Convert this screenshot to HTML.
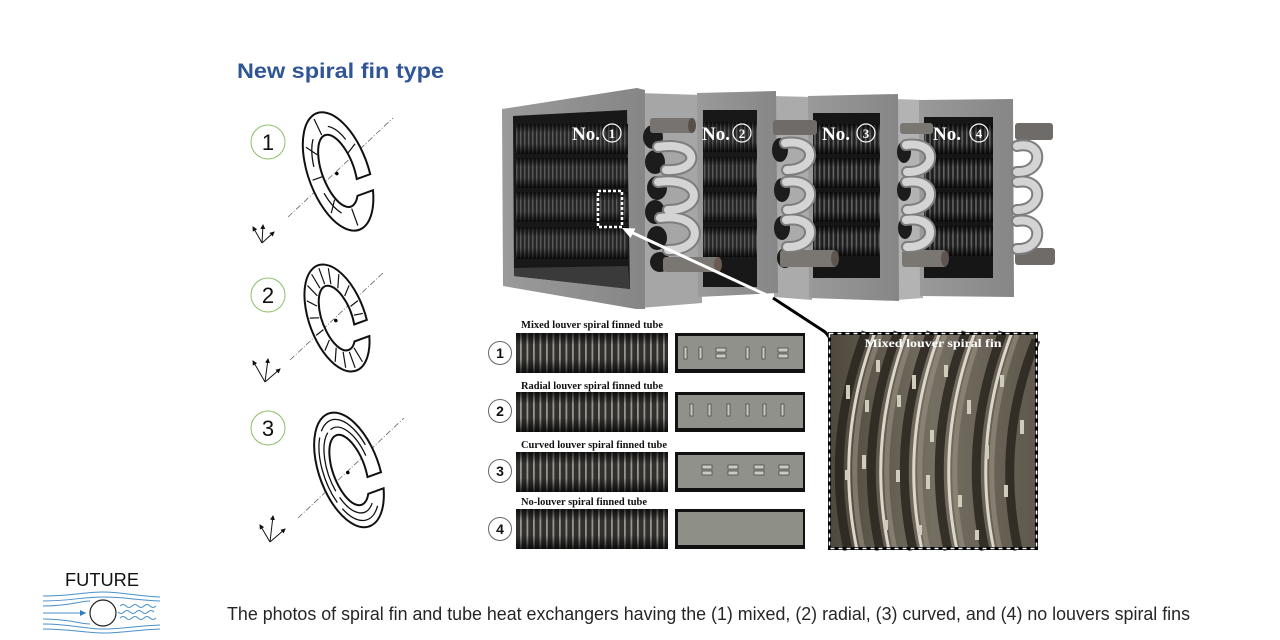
<!DOCTYPE html>
<html><head><meta charset="utf-8">
<style>html,body{margin:0;padding:0;background:#fff;}svg{display:block}</style></head>
<body>
<svg width="1280" height="640" viewBox="0 0 1280 640" xmlns="http://www.w3.org/2000/svg">
<defs>
  <pattern id="hx" width="4" height="7" patternUnits="userSpaceOnUse">
    <rect width="4" height="7" fill="#2c2c2c"/>
    <rect width="1.4" height="7" fill="#626262"/>
  </pattern>
  <pattern id="hx2" width="4.6" height="7" patternUnits="userSpaceOnUse">
    <rect width="4.6" height="7" fill="#232323"/>
    <rect width="1.6" height="7" fill="#6c6c6c"/>
  </pattern>
  <pattern id="fins" width="6.5" height="10" patternUnits="userSpaceOnUse">
    <rect width="6.5" height="10" fill="#363532"/>
    <rect width="1.8" height="10" fill="#a5a39c"/>
  </pattern>
  <linearGradient id="shade" x1="0" y1="0" x2="0" y2="1">
    <stop offset="0" stop-color="#000" stop-opacity="0.75"/>
    <stop offset="0.3" stop-color="#000" stop-opacity="0.08"/>
    <stop offset="0.65" stop-color="#000" stop-opacity="0.1"/>
    <stop offset="1" stop-color="#000" stop-opacity="0.8"/>
  </linearGradient>
  <linearGradient id="frameG" x1="0" y1="0" x2="1" y2="0">
    <stop offset="0" stop-color="#9a9a9a"/>
    <stop offset="1" stop-color="#868686"/>
  </linearGradient>
  <linearGradient id="insetG" x1="0" y1="0" x2="1" y2="0">
    <stop offset="0" stop-color="#4d473c"/>
    <stop offset="0.5" stop-color="#756e62"/>
    <stop offset="1" stop-color="#5f584c"/>
  </linearGradient>
  <marker id="ah" markerWidth="5" markerHeight="5" refX="4" refY="2.5" orient="auto" markerUnits="userSpaceOnUse">
    <path d="M0,0 L5,2.5 L0,5 Z" fill="#111"/>
  </marker>
</defs>

<!-- Title -->
<text x="237" y="78" font-family="Liberation Sans, sans-serif" font-weight="bold" font-size="21" fill="#2F5597" textLength="207" lengthAdjust="spacingAndGlyphs">New spiral fin type</text>

<!-- Number circles -->
<g font-family="Liberation Sans, sans-serif" font-size="22" fill="#111" text-anchor="middle">
  <circle cx="268" cy="142" r="17" fill="none" stroke="#8cbf6a" stroke-width="1"/>
  <text x="268" y="150">1</text>
  <circle cx="268" cy="295" r="17" fill="none" stroke="#8cbf6a" stroke-width="1"/>
  <text x="268" y="303">2</text>
  <circle cx="268" cy="428" r="17" fill="none" stroke="#8cbf6a" stroke-width="1"/>
  <text x="268" y="436">3</text>
</g>

<!-- axis dashed lines -->
<g stroke="#666" stroke-width="0.8" stroke-dasharray="6,2,1,2" fill="none">
  <line x1="288" y1="217" x2="393" y2="118"/>
  <line x1="290" y1="360" x2="384" y2="272"/>
  <line x1="298" y1="518" x2="404" y2="418"/>
</g>

<!-- Fin 1 mixed -->
<g transform="translate(338,171) rotate(-20)" stroke="#111" fill="none">
  <path d="M29.2,14 A30,62 0 1 0 26.3,30 L9.8,30 A16,38 0 1 1 14.9,14 Z" fill="#fff" stroke-width="2"/>
  <path d="M-21.25,-12.2 A22,47 0 0 1 -12.6,-38.5 M5.7,-45.4 A22,47 0 0 1 18,-27 M-11,40.7 A22,47 0 0 1 -20.7,16.1" stroke-width="1.3"/>
  <path d="M-17,0 L-27,0 M-3,-39.4 L-4.7,-57.1 M15.5,-13.5 L25.4,-19.8 M0,40 L0,58 M-14,-22.4 L-22,-33.3 M-13,25.7 L-20.7,37.3" stroke-width="1.2"/>
  <circle cx="-2" cy="2" r="1.8" fill="#000" stroke="none"/>
</g>

<!-- Fin 2 radial -->
<g transform="translate(337,318) rotate(-20)" stroke="#111" fill="none">
  <path d="M27.35,12 A28,56 0 1 0 24.25,28 L8.5,28 A15,34 0 1 1 14,12 Z" fill="#fff" stroke-width="2"/>
  <path d="M5.8,33.8 L8.9,49.8 M0,36 L0,53 M-5.8,33.8 L-8.9,49.8 M-10.9,27.6 L-16.7,40.6 M-14.7,18 L-22.5,26.5 M-16.7,6.3 L-25.6,9.2 M-16.7,-6.3 L-25.6,-9.2 M-14.7,-18 L-22.5,-26.5 M-10.9,-27.6 L-16.7,-40.6 M-5.8,-33.8 L-8.9,-49.8 M0,-36 L0,-53 M5.8,-33.8 L8.9,-49.8 M10.9,-27.6 L16.7,-40.6 M14.7,-18 L22.5,-26.5 M16.7,-6.3 L25.6,-9.2 M16.9,3.1 L25.9,4.6" stroke-width="1.2"/>
  <circle cx="-2" cy="2" r="1.8" fill="#000" stroke="none"/>
</g>

<!-- Fin 3 curved -->
<g transform="translate(349,470) rotate(-20)" stroke="#111" fill="none">
  <path d="M29.3,13 A30,60 0 1 0 26.26,29 L9.94,29 A16,37 0 1 1 14.98,13 Z" fill="#fff" stroke-width="2"/>
  <path d="M10.5,39 A21,45 0 0 1 -18.2,22.5 M-19.7,15.4 A21,45 0 0 1 -7.2,-42.3 M-3.6,-44.3 A21,45 0 0 1 20.7,-7.8" stroke-width="1.3"/>
  <path d="M14.6,43.4 A25.5,53 0 0 1 -19.5,34.1 M-22.1,26.5 A25.5,53 0 0 1 -16.4,-40.6 M-12.75,-45.9 A25.5,53 0 0 1 24,-18.1" stroke-width="1.3"/>
  <circle cx="-2" cy="2" r="1.8" fill="#000" stroke="none"/>
</g>

<!-- axis icons -->
<g stroke="#111" stroke-width="1" fill="none" marker-end="url(#ah)">
  <line x1="262" y1="243" x2="253" y2="227"/>
  <line x1="262" y1="243" x2="263" y2="225"/>
  <line x1="262" y1="243" x2="274" y2="232"/>
  <line x1="265" y1="382" x2="253" y2="361"/>
  <line x1="265" y1="382" x2="268" y2="359"/>
  <line x1="265" y1="382" x2="280" y2="369"/>
  <line x1="270" y1="542" x2="260" y2="525"/>
  <line x1="270" y1="542" x2="273" y2="516"/>
  <line x1="270" y1="542" x2="285" y2="529"/>
</g>

<!-- ================= Heat exchanger photo ================= -->
<polygon points="638,93 702,95 702,303 640,308" fill="#a6a6a6"/>
<polygon points="772,96 812,97 812,300 774,297" fill="#ababab"/>
<polygon points="895,99 923,100 923,298 897,300" fill="#b3b3b3"/>

<!-- Panel 1 -->
<polygon points="502,109 637,88 645,90 645,309 636,309 503,286" fill="url(#frameG)"/>
<polygon points="513,116 627,110 630,289 514,276" fill="#181818"/>
<g>
  <rect x="516" y="124" width="112" height="30" fill="url(#hx)"/><rect x="516" y="124" width="112" height="30" fill="url(#shade)"/>
  <rect x="516" y="158" width="112" height="30" fill="url(#hx)"/><rect x="516" y="158" width="112" height="30" fill="url(#shade)"/>
  <rect x="516" y="192" width="112" height="30" fill="url(#hx)"/><rect x="516" y="192" width="112" height="30" fill="url(#shade)"/>
  <rect x="516" y="227" width="112" height="32" fill="url(#hx)"/><rect x="516" y="227" width="112" height="32" fill="url(#shade)"/>
</g>
<polygon points="514,268 628,266 630,289 514,276" fill="#3a3a3a"/>

<!-- Panel 2 -->
<polygon points="697,93 776,91 778,293 698,297" fill="url(#frameG)"/>
<rect x="703" y="110" width="54" height="177" fill="#181818"/>
<g>
  <rect x="703" y="122" width="54" height="30" fill="url(#hx)"/><rect x="703" y="122" width="54" height="30" fill="url(#shade)"/>
  <rect x="703" y="157" width="54" height="30" fill="url(#hx)"/><rect x="703" y="157" width="54" height="30" fill="url(#shade)"/>
  <rect x="703" y="192" width="54" height="30" fill="url(#hx)"/><rect x="703" y="192" width="54" height="30" fill="url(#shade)"/>
  <rect x="703" y="227" width="54" height="30" fill="url(#hx)"/><rect x="703" y="227" width="54" height="30" fill="url(#shade)"/>
</g>

<!-- Panel 3 -->
<polygon points="808,96 898,94 899,301 809,298" fill="url(#frameG)"/>
<rect x="813" y="113" width="67" height="165" fill="#161616"/>
<g>
  <rect x="813" y="124" width="67" height="30" fill="url(#hx2)"/><rect x="813" y="124" width="67" height="30" fill="url(#shade)"/>
  <rect x="813" y="158" width="67" height="30" fill="url(#hx2)"/><rect x="813" y="158" width="67" height="30" fill="url(#shade)"/>
  <rect x="813" y="192" width="67" height="30" fill="url(#hx2)"/><rect x="813" y="192" width="67" height="30" fill="url(#shade)"/>
  <rect x="813" y="226" width="67" height="30" fill="url(#hx2)"/><rect x="813" y="226" width="67" height="30" fill="url(#shade)"/>
</g>

<!-- Panel 4 -->
<polygon points="919,100 1013,99 1014,297 920,296" fill="url(#frameG)"/>
<rect x="924" y="117" width="69" height="161" fill="#161616"/>
<g>
  <rect x="924" y="124" width="69" height="30" fill="url(#hx2)"/><rect x="924" y="124" width="69" height="30" fill="url(#shade)"/>
  <rect x="924" y="158" width="69" height="30" fill="url(#hx2)"/><rect x="924" y="158" width="69" height="30" fill="url(#shade)"/>
  <rect x="924" y="192" width="69" height="30" fill="url(#hx2)"/><rect x="924" y="192" width="69" height="30" fill="url(#shade)"/>
  <rect x="924" y="226" width="69" height="30" fill="url(#hx2)"/><rect x="924" y="226" width="69" height="30" fill="url(#shade)"/>
</g>

<!-- dark pipe ends -->
<g fill="#1c1c1c">
  <ellipse cx="653" cy="137" rx="10" ry="12"/>
  <ellipse cx="655" cy="162" rx="10" ry="12"/>
  <ellipse cx="657" cy="188" rx="10" ry="12"/>
  <ellipse cx="655" cy="212" rx="10" ry="12"/>
  <ellipse cx="657" cy="238" rx="10" ry="12"/>
  <ellipse cx="660" cy="262" rx="10" ry="10"/>
  <ellipse cx="780" cy="150" rx="8" ry="12"/>
  <ellipse cx="782" cy="190" rx="8" ry="12"/>
  <ellipse cx="782" cy="228" rx="8" ry="12"/>
  <ellipse cx="785" cy="258" rx="8" ry="10"/>
  <ellipse cx="904" cy="152" rx="7" ry="11"/>
  <ellipse cx="904" cy="190" rx="7" ry="11"/>
  <ellipse cx="905" cy="228" rx="7" ry="11"/>
</g>

<!-- pipe stubs -->
<g>
  <rect x="650" y="118" width="44" height="15" rx="3" fill="#767370"/>
  <ellipse cx="692" cy="125.5" rx="4" ry="7.5" fill="#5a4f48"/>
  <rect x="663" y="257" width="57" height="15" rx="3" fill="#7a7672"/>
  <ellipse cx="718" cy="264.5" rx="4" ry="7.5" fill="#6a5c52"/>
  <rect x="773" y="120" width="44" height="15" rx="3" fill="#6e6b68"/>
  <rect x="780" y="250" width="57" height="17" rx="3" fill="#7a7672"/>
  <ellipse cx="835" cy="258.5" rx="4" ry="8" fill="#5f5550"/>
  <rect x="900" y="123" width="33" height="11" rx="3" fill="#7a7672"/>
  <rect x="902" y="250" width="45" height="17" rx="3" fill="#7a7672"/>
  <ellipse cx="945" cy="258.5" rx="4" ry="8" fill="#5f5550"/>
  <rect x="1015" y="123" width="38" height="17" rx="3" fill="#6e6b68"/>
  <rect x="1015" y="248" width="40" height="17" rx="3" fill="#6e6b68"/>
</g>

<!-- U-bends -->
<g fill="none" stroke-linecap="round">
  <g stroke="#7d7d7d" stroke-width="12">
    <path d="M658,147 C700,140 702,172 666,170"/>
    <path d="M658,182 C703,176 705,210 668,210"/>
    <path d="M660,218 C704,212 706,250 668,250"/>
    <path d="M785,143 C818,138 818,170 787,170"/>
    <path d="M786,182 C818,177 818,210 787,210"/>
    <path d="M786,220 C818,215 818,248 787,247"/>
    <path d="M906,145 C938,140 938,173 907,172"/>
    <path d="M906,182 C938,177 938,210 907,210"/>
    <path d="M906,220 C938,215 938,248 907,247"/>
    <path d="M1017,146 C1044,140 1044,173 1017,172"/>
    <path d="M1017,182 C1044,177 1044,210 1017,210"/>
    <path d="M1017,221 C1044,216 1044,250 1017,249"/>
  </g>
  <g stroke="#d4d4d4" stroke-width="8">
    <path d="M658,147 C700,140 702,172 666,170"/>
    <path d="M658,182 C703,176 705,210 668,210"/>
    <path d="M660,218 C704,212 706,250 668,250"/>
    <path d="M785,143 C818,138 818,170 787,170"/>
    <path d="M786,182 C818,177 818,210 787,210"/>
    <path d="M786,220 C818,215 818,248 787,247"/>
    <path d="M906,145 C938,140 938,173 907,172"/>
    <path d="M906,182 C938,177 938,210 907,210"/>
    <path d="M906,220 C938,215 938,248 907,247"/>
    <path d="M1017,146 C1044,140 1044,173 1017,172"/>
    <path d="M1017,182 C1044,177 1044,210 1017,210"/>
    <path d="M1017,221 C1044,216 1044,250 1017,249"/>
  </g>
</g>

<!-- No. labels -->
<g font-family="Liberation Serif, serif" font-weight="bold" fill="#fff">
  <text x="572" y="140" font-size="19">No.</text>
  <circle cx="612" cy="133" r="9" fill="none" stroke="#fff" stroke-width="1.2"/>
  <text x="612" y="138" font-size="13" text-anchor="middle">1</text>
  <text x="702" y="140" font-size="19">No.</text>
  <circle cx="742" cy="133" r="9" fill="none" stroke="#fff" stroke-width="1.2"/>
  <text x="742" y="138" font-size="13" text-anchor="middle">2</text>
  <text x="822" y="140" font-size="19">No.</text>
  <circle cx="866" cy="133" r="9" fill="none" stroke="#fff" stroke-width="1.2"/>
  <text x="866" y="138" font-size="13" text-anchor="middle">3</text>
  <text x="933" y="140" font-size="19">No.</text>
  <circle cx="979" cy="133" r="9" fill="none" stroke="#fff" stroke-width="1.2"/>
  <text x="979" y="138" font-size="13" text-anchor="middle">4</text>
</g>

<!-- dotted square -->
<rect x="598" y="191" width="24" height="36" fill="none" stroke="#fff" stroke-width="2.5" stroke-dasharray="3,2"/>

<!-- arrow -->
<line x1="633" y1="233" x2="773" y2="298" stroke="#fff" stroke-width="3"/>
<polygon points="622,228 635.5,228.5 630.5,238" fill="#fff"/>
<path d="M773,298 L822,330 Q826,332 829,337" fill="none" stroke="#000" stroke-width="3"/>

<!-- ================= tube rows ================= -->
<g font-family="Liberation Serif, serif" font-weight="bold" font-size="11" fill="#111">
  <text x="521" y="328" textLength="142" lengthAdjust="spacingAndGlyphs">Mixed louver spiral finned tube</text>
  <text x="521" y="389" textLength="142" lengthAdjust="spacingAndGlyphs">Radial louver spiral finned tube</text>
  <text x="521" y="448" textLength="146" lengthAdjust="spacingAndGlyphs">Curved louver spiral finned tube</text>
  <text x="521" y="505" textLength="126" lengthAdjust="spacingAndGlyphs">No-louver spiral finned tube</text>
</g>

<g>
  <rect x="516" y="333" width="152" height="40" fill="url(#fins)"/><rect x="516" y="333" width="152" height="40" fill="url(#shade)"/>
  <rect x="516" y="392" width="152" height="40" fill="url(#fins)"/><rect x="516" y="392" width="152" height="40" fill="url(#shade)"/>
  <rect x="516" y="452" width="152" height="40" fill="url(#fins)"/><rect x="516" y="452" width="152" height="40" fill="url(#shade)"/>
  <rect x="516" y="509" width="152" height="40" fill="url(#fins)"/><rect x="516" y="509" width="152" height="40" fill="url(#shade)"/>
</g>

<!-- flat fin photos -->
<g>
  <rect x="675" y="333" width="130" height="40" fill="#111"/><rect x="678" y="336" width="125" height="33" fill="#8f918a"/>
  <rect x="675" y="392" width="130" height="40" fill="#111"/><rect x="678" y="395" width="125" height="33" fill="#8f918a"/>
  <rect x="675" y="452" width="130" height="40" fill="#111"/><rect x="678" y="455" width="125" height="33" fill="#8f918a"/>
  <rect x="675" y="509" width="130" height="40" fill="#111"/><rect x="678" y="512" width="125" height="33" fill="#8e9088"/>
</g>
<g fill="#c9cbc2" stroke="#4a4b46" stroke-width="0.8">
  <rect x="684" y="347" width="3" height="12"/>
  <rect x="699" y="347" width="3" height="12"/>
  <rect x="746" y="347" width="3" height="12"/>
  <rect x="762" y="347" width="3" height="12"/>
  <rect x="716" y="348" width="10" height="4"/><rect x="716" y="354" width="10" height="4"/>
  <rect x="778" y="348" width="10" height="4"/><rect x="778" y="354" width="10" height="4"/>
  <rect x="690" y="404" width="3" height="12"/>
  <rect x="708" y="404" width="3" height="12"/>
  <rect x="727" y="404" width="3" height="12"/>
  <rect x="746" y="404" width="3" height="12"/>
  <rect x="763" y="404" width="3" height="12"/>
  <rect x="781" y="404" width="3" height="12"/>
  <rect x="702" y="465" width="10" height="4"/><rect x="702" y="471" width="10" height="4"/>
  <rect x="728" y="465" width="10" height="4"/><rect x="728" y="471" width="10" height="4"/>
  <rect x="754" y="465" width="10" height="4"/><rect x="754" y="471" width="10" height="4"/>
  <rect x="779" y="465" width="10" height="4"/><rect x="779" y="471" width="10" height="4"/>
</g>

<!-- row number circles -->
<g font-family="Liberation Sans, sans-serif" font-weight="bold" font-size="14" fill="#111" text-anchor="middle">
  <circle cx="500" cy="353" r="11.5" fill="#fff" stroke="#666" stroke-width="1"/>
  <text x="500" y="358">1</text>
  <circle cx="500" cy="411" r="11.5" fill="#fff" stroke="#666" stroke-width="1"/>
  <text x="500" y="416">2</text>
  <circle cx="500" cy="471" r="11.5" fill="#fff" stroke="#666" stroke-width="1"/>
  <text x="500" y="476">3</text>
  <circle cx="500" cy="529" r="11.5" fill="#fff" stroke="#666" stroke-width="1"/>
  <text x="500" y="534">4</text>
</g>

<!-- ================= Inset photo ================= -->
<rect x="828" y="332" width="210" height="218" fill="url(#insetG)"/>
<g fill="none">
  <g stroke="#2a261f" stroke-width="9" opacity="0.85">
    <path d="M866,332 Q824,441 848,550"/>
    <path d="M898,332 Q856,441 880,550"/>
    <path d="M931,332 Q889,441 913,550"/>
    <path d="M966,332 Q924,441 948,550"/>
    <path d="M1003,332 Q961,441 985,550"/>
    <path d="M1036,340 Q995,441 1018,550"/>
  </g>
  <g stroke="#9a9283" stroke-width="5" opacity="0.6">
    <path d="M881,332 Q840,441 863,550"/>
    <path d="M913,332 Q872,441 895,550"/>
    <path d="M946,332 Q905,441 928,550"/>
    <path d="M981,332 Q940,441 963,550"/>
    <path d="M1018,332 Q977,441 1000,550"/>
  </g>
  <g stroke="#dcd7ca" stroke-width="3">
    <path d="M875,332 Q834,441 857,550"/>
    <path d="M907,332 Q866,441 889,550"/>
    <path d="M940,332 Q899,441 922,550"/>
    <path d="M975,332 Q934,441 957,550"/>
    <path d="M1012,332 Q971,441 994,550"/>
  </g>
</g>
<g fill="#cfcbbd">
  <rect x="846" y="385" width="4" height="14"/><rect x="865" y="400" width="4" height="12"/>
  <rect x="862" y="455" width="4" height="14"/><rect x="845" y="470" width="4" height="10"/>
  <rect x="876" y="360" width="4" height="12"/><rect x="897" y="395" width="4" height="12"/>
  <rect x="896" y="470" width="4" height="12"/><rect x="884" y="520" width="4" height="10"/>
  <rect x="912" y="375" width="4" height="14"/><rect x="930" y="430" width="4" height="12"/>
  <rect x="926" y="475" width="4" height="14"/><rect x="944" y="365" width="4" height="12"/>
  <rect x="967" y="400" width="4" height="14"/><rect x="958" y="495" width="4" height="12"/>
  <rect x="985" y="445" width="4" height="14"/><rect x="1000" y="375" width="4" height="12"/>
  <rect x="1004" y="485" width="4" height="12"/><rect x="1020" y="420" width="4" height="14"/>
  <rect x="918" y="525" width="4" height="10"/><rect x="975" y="530" width="4" height="10"/>
</g>
<rect x="829.5" y="333.5" width="207" height="215" fill="none" stroke="#000" stroke-width="3"/>
<rect x="829.5" y="333.5" width="207" height="215" fill="none" stroke="#fff" stroke-width="1.5" stroke-dasharray="4,4"/>
<text x="933" y="347" font-family="Liberation Serif, serif" font-weight="bold" font-size="12" fill="#fff" text-anchor="middle" textLength="137" lengthAdjust="spacingAndGlyphs">Mixed louver spiral fin</text>

<!-- ================= FUTURE logo ================= -->
<text x="65" y="586" font-family="Liberation Sans, sans-serif" font-size="18" fill="#111" textLength="74" lengthAdjust="spacingAndGlyphs">FUTURE</text>
<g fill="none" stroke="#4a90c9" stroke-width="1">
  <path d="M43,596 C70,596 85,592 103,592 S135,596 160,597"/>
  <path d="M43,601 C70,601 82,597 103,597 S135,600 160,601"/>
  <path d="M43,606 C70,606 80,601 90,601"/>
  <path d="M43,613 L86,613"/>
  <path d="M43,619 C70,619 80,624 90,624"/>
  <path d="M43,624 C70,624 85,629 103,629 S135,626 160,625"/>
  <path d="M43,629 C70,629 85,633 103,633 S135,630 160,629"/>
  <path d="M120,606 q3,-3 6,0 t6,0 t6,0 t6,0 t6,0 t6,0 M118,612 q3,3 6,0 t6,0 t6,0 t6,0 t6,0 t6,0 M120,618 q3,-3 6,0 t6,0 t6,0 t6,0 t6,0 t6,0"/>
</g>
<polygon points="80,610 86,613 80,616" fill="#2f7fc0"/>
<circle cx="103" cy="613" r="13" fill="#fff" stroke="#222" stroke-width="1.2"/>

<!-- caption -->
<text x="227" y="620" font-family="Liberation Sans, sans-serif" font-size="18" fill="#262626" textLength="963" lengthAdjust="spacingAndGlyphs">The photos of spiral fin and tube heat exchangers having the (1) mixed, (2) radial, (3) curved, and (4) no louvers spiral fins</text>
</svg>
</body></html>
